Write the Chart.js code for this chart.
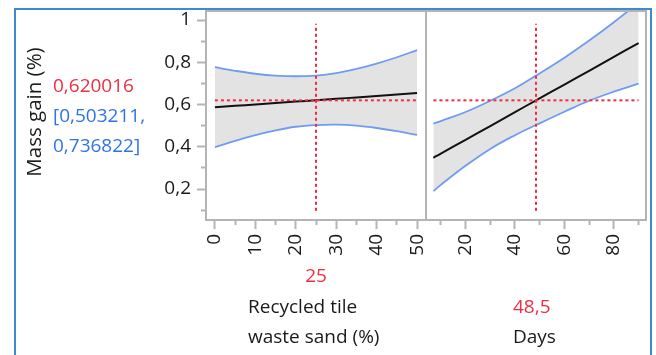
<!DOCTYPE html>
<html>
<head>
<meta charset="utf-8">
<script src="https://cdn.jsdelivr.net/npm/chart.js@4.4.1/dist/chart.umd.min.js"></script>
<style>
  body { margin: 0; width: 656px; height: 355px; overflow: hidden; position: relative; background: #fff; font-family: "Open Sans", sans-serif; }
  #frame { position: absolute; left: 14px; top: 8px; width: 638px; height: 420px; border: 2px solid #3d8ad3; box-sizing: border-box; }
  canvas { position: absolute; top: 0; }
  .lbl { position: absolute; font-size: 19px; line-height: 30px; color: #1a1a1a; white-space: nowrap; }
  .red { color: #ef2d44; }
  .blue { color: #2f72ee; }
</style>
</head>
<body>
<div id="frame"></div>
<canvas id="c1" width="430" height="355" style="left:0"></canvas>
<canvas id="c2" width="236" height="355" style="left:420px"></canvas>

<div class="lbl" id="ytitle" style="left:-47px;top:97px;width:160px;text-align:center;font-size:20.5px;transform:rotate(-90deg)">Mass gain (%)</div>
<div class="lbl red" id="curVal" style="left:53px;top:70px"></div>
<div class="lbl blue" id="ciLow" style="left:53px;top:100px"></div>
<div class="lbl blue" id="ciHigh" style="left:53px;top:130px"></div>

<div class="lbl red" id="sandVal" style="left:216px;top:260px;width:200px;text-align:center"></div>
<div class="lbl" style="left:248px;top:291px">Recycled tile</div>
<div class="lbl" style="left:248px;top:321px">waste sand (%)</div>
<div class="lbl red" id="dayVal" style="left:513px;top:291px"></div>
<div class="lbl" style="left:513px;top:321px">Days</div>

<script>
// current settings of the profiler
var massNow = 0.620016;
var massCI = [0.503211, 0.736822];
var sandNow = 25;
var dayNow = 48.5;
var crossSpan = [0.097, 0.983];

// Recycled tile waste sand (%) profile
var sandX = [0, 5, 10, 15, 20, 25, 30, 35, 40, 45, 50];
var sandPred = [0.587, 0.594, 0.600, 0.607, 0.614, 0.620, 0.627, 0.634, 0.641, 0.648, 0.655];
var sandUpper = [0.777, 0.760, 0.746, 0.737, 0.734, 0.737, 0.749, 0.769, 0.794, 0.824, 0.858];
var sandLower = [0.398, 0.428, 0.455, 0.478, 0.495, 0.503, 0.505, 0.500, 0.489, 0.474, 0.456];

// Days profile
var dayX = [7, 10, 20, 30, 40, 48.5, 60, 70, 80, 90];
var dayPred = [0.348, 0.368, 0.433, 0.498, 0.564, 0.620, 0.695, 0.760, 0.826, 0.891];
var dayUpper = [0.510, 0.522, 0.565, 0.618, 0.677, 0.737, 0.822, 0.903, 0.990, 1.082];
var dayLower = [0.190, 0.220, 0.310, 0.390, 0.455, 0.503, 0.566, 0.618, 0.661, 0.699];

// axis ranges
var yRange = [0.0535, 1.043];
var sandRange = [-2.2, 52.2];
var dayRange = [4.0, 93.0];

function comma(v) {
  return String(v).replace('.', ',');
}

document.getElementById('curVal').textContent = comma(massNow);
document.getElementById('ciLow').textContent = '[' + comma(massCI[0]) + ',';
document.getElementById('ciHigh').textContent = comma(massCI[1]) + ']';
document.getElementById('sandVal').textContent = comma(sandNow);
document.getElementById('dayVal').textContent = comma(dayNow);

function pts(xs, ys) {
  return xs.map(function (x, i) { return {x: x, y: ys[i]}; });
}

var gray = '#b4b4b4';
var tickFont = {family: "'Open Sans', sans-serif", size: 19};

var framePlugin = {
  id: 'frame',
  afterDraw: function (chart) {
    var a = chart.chartArea;
    var c = chart.ctx;
    c.save();
    c.strokeStyle = gray;
    c.lineWidth = 2;
    c.strokeRect(a.left, a.top, a.right - a.left, a.bottom - a.top);
    c.restore();
  }
};

function makeDatasets(xs, pred, upper, lower, now, xFrom, xTo) {
  return [
    {data: pts(xs, upper), borderColor: '#6f9cf0', borderWidth: 1.8, backgroundColor: '#e3e3e3', fill: '+1', order: 4},
    {data: pts(xs, lower), borderColor: '#6f9cf0', borderWidth: 1.8, fill: false, order: 3},
    {data: pts(xs, pred), borderColor: '#111', borderWidth: 2, fill: false, order: 2},
    {data: [{x: now, y: crossSpan[0]}, {x: now, y: crossSpan[1]}], borderColor: '#ef2d44', borderWidth: 2, borderDash: [3, 3], fill: false, tension: 0, order: 1},
    {data: [{x: xFrom, y: massNow}, {x: xTo, y: massNow}], borderColor: '#ef2d44', borderWidth: 2, borderDash: [3, 3], fill: false, tension: 0, order: 1}
  ];
}

function xScale(range, step, labelEvery) {
  return {
    type: 'linear',
    min: range[0],
    max: range[1],
    afterFit: function (s) { s.height = 135; s.paddingLeft = 0; s.paddingRight = 0; },
    border: {display: false},
    grid: {
      drawOnChartArea: false,
      tickLength: 9,
      tickWidth: 2,
      tickColor: gray,
      tickBorderDash: function (ctx) { return ctx.tick && ctx.tick.value % labelEvery === 0 ? [] : [5, 100]; }
    },
    ticks: {
      stepSize: step,
      includeBounds: false,
      autoSkip: false,
      minRotation: 90,
      maxRotation: 90,
      padding: 5,
      color: '#1a1a1a',
      font: tickFont,
      callback: function (v) { return v % labelEvery === 0 ? String(v) : ''; }
    }
  };
}

var common = {
  responsive: false,
  animation: false,
  elements: {point: {radius: 0}, line: {tension: 0.4}},
  plugins: {legend: {display: false}, tooltip: {enabled: false}}
};

new Chart('c1', {
  type: 'line',
  data: {datasets: makeDatasets(sandX, sandPred, sandUpper, sandLower, sandNow, sandX[0], sandX[sandX.length - 1])},
  options: Object.assign({}, common, {
    layout: {padding: {left: 0, right: 4, top: 11, bottom: 0}},
    scales: {
      x: xScale(sandRange, 5, 10),
      y: {
        min: yRange[0],
        max: yRange[1],
        afterFit: function (s) { s.width = 206; s.paddingTop = 0; s.paddingBottom = 0; },
        border: {display: false},
        grid: {
          drawOnChartArea: false,
          tickLength: 9,
          tickWidth: 2,
          tickColor: gray,
          tickBorderDash: function (ctx) { return ctx.tick && Math.round(ctx.tick.value * 10) % 2 === 0 ? [] : [0, 4, 5, 100]; }
        },
        ticks: {
          stepSize: 0.1,
          includeBounds: false,
          autoSkip: false,
          padding: 6,
          color: '#1a1a1a',
          font: tickFont,
          callback: function (v) {
            var t = Math.round(v * 10);
            return t % 2 === 0 ? comma(t / 10) : '';
          }
        }
      }
    }
  }),
  plugins: [framePlugin]
});

new Chart('c2', {
  type: 'line',
  data: {datasets: makeDatasets(dayX, dayPred, dayUpper, dayLower, dayNow, dayX[0], dayX[dayX.length - 1])},
  options: Object.assign({}, common, {
    layout: {padding: {left: 6, right: 10, top: 11, bottom: 0}},
    scales: {
      x: xScale(dayRange, 10, 20),
      y: {display: false, min: yRange[0], max: yRange[1]}
    }
  }),
  plugins: [framePlugin]
});
</script>
</body>
</html>
